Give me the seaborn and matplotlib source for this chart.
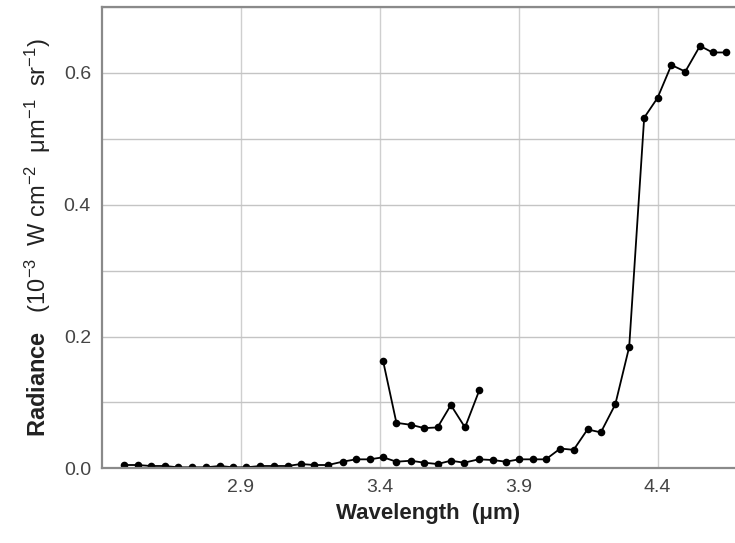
import numpy as np
import pandas as pd
import matplotlib
matplotlib.use("Agg")
import matplotlib.pyplot as plt
from matplotlib.ticker import MultipleLocator, FixedLocator, FormatStrFormatter
import seaborn as sns

# Spectrum samples (wavelength in micrometres, radiance in 1e-3 W cm^-2 um^-1 sr^-1)
wavelength = [2.480, 2.528, 2.576, 2.626, 2.674, 2.724, 2.774, 2.824, 2.872, 2.920,
              2.970, 3.020, 3.068, 3.116, 3.164, 3.214, 3.266, 3.314, 3.364, 3.412,
              3.460, 3.512, 3.560, 3.608, 3.656, 3.704, 3.756, 3.806, 3.854, 3.902,
              3.950, 3.998, 4.050, 4.098, 4.148, 4.196, 4.248, 4.298, 4.352, 4.400,
              4.450, 4.500, 4.553, 4.598, 4.646]
radiance = [0.005, 0.005, 0.0035, 0.0035, 0.0015, 0.0015, 0.0015, 0.0035, 0.0015, 0.0015,
            0.0035, 0.0035, 0.0035, 0.0065, 0.005, 0.005, 0.010, 0.0136, 0.0136, 0.0167,
            0.010, 0.0115, 0.0085, 0.0065, 0.0115, 0.0085, 0.0136, 0.0126, 0.010, 0.0136,
            0.0136, 0.0136, 0.030, 0.028, 0.059, 0.0545, 0.097, 0.184, 0.532, 0.562,
            0.612, 0.602, 0.641, 0.631, 0.631]

# Short band segment around 3.4-3.75 um
band_wavelength = [3.412, 3.460, 3.512, 3.560, 3.608, 3.656, 3.707, 3.759]
band_radiance = [0.163, 0.069, 0.066, 0.061, 0.062, 0.096, 0.062, 0.119]

x_ticks = [2.9, 3.4, 3.9, 4.4]
y_ticks = [0.0, 0.2, 0.4, 0.6]

main_df = pd.DataFrame({"wavelength": wavelength, "radiance": radiance})
band_df = pd.DataFrame({"wavelength": band_wavelength, "radiance": band_radiance})

sns.set_style("white")
plt.rcParams["font.family"] = ["Liberation Sans", "DejaVu Sans"]
plt.rcParams["mathtext.fontset"] = "custom"
plt.rcParams["mathtext.rm"] = "Liberation Sans"
plt.rcParams["mathtext.it"] = "Liberation Sans:italic"
plt.rcParams["mathtext.bf"] = "Liberation Sans:bold"

fig = plt.figure(figsize=(7.35, 5.43), dpi=100)
ax = fig.add_axes([102 / 735, 1 - 468.3 / 543, (755 - 102) / 735, (468.3 - 7) / 543])

line_kw = dict(color="black", linewidth=1.3, marker="o", markersize=5.5,
               markeredgewidth=0, estimator=None, sort=False, legend=False, ax=ax)
sns.lineplot(data=main_df, x="wavelength", y="radiance", **line_kw)
sns.lineplot(data=band_df, x="wavelength", y="radiance", **line_kw)

ax.set_xlim(2.4, 4.751)
ax.set_ylim(0.0, 0.7)
ax.xaxis.set_major_locator(FixedLocator(x_ticks))
ax.yaxis.set_major_locator(FixedLocator(y_ticks))
ax.yaxis.set_minor_locator(MultipleLocator(0.1))
ax.xaxis.set_major_formatter(FormatStrFormatter("%.1f"))
ax.yaxis.set_major_formatter(FormatStrFormatter("%.1f"))

ax.grid(True, which="major", axis="x", color="#cfcfcf", linewidth=1.0)
ax.grid(True, which="both", axis="y", color="#c4c4c4", linewidth=1.0)
ax.set_axisbelow(True)

for side in ["left", "bottom", "top"]:
    ax.spines[side].set_visible(True)
    ax.spines[side].set_color("#8a8a8a")
    ax.spines[side].set_linewidth(1.6)
ax.spines["right"].set_visible(False)

ax.tick_params(axis="both", which="both", direction="out", length=3, width=1,
               color="#999999", labelcolor="#444444", labelsize=14, pad=5)
ax.tick_params(axis="y", which="minor", length=0)

ax.set_xlabel("Wavelength  (\u03bcm)", fontsize=16, fontweight="bold",
              color="#222222", labelpad=5)
ax.set_ylabel(r"$\mathbf{Radiance}\ \ \ (10^{-3}\ \ \mathrm{W\ cm^{-2}\ \ \mu m^{-1}\ \ sr^{-1}})$",
              fontsize=17, color="#222222", labelpad=8)

fig.savefig("out.png", dpi=100)
